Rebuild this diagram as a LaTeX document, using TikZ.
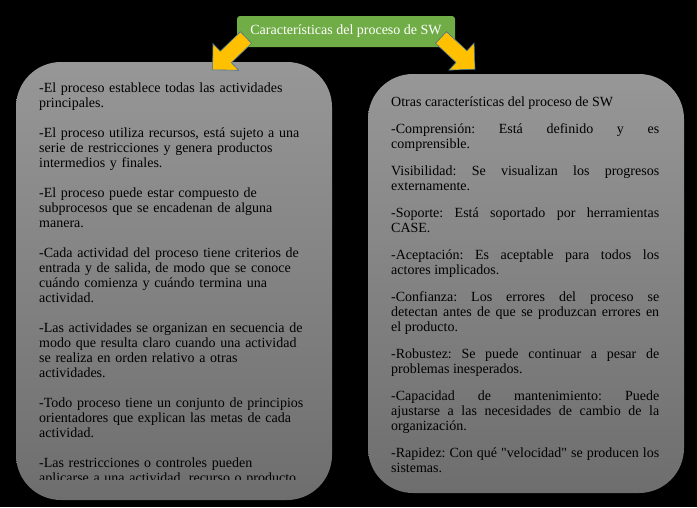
\documentclass[tikz,border=0pt]{standalone}
\usepackage{fontspec}
\setmainfont{Liberation Serif}
\usepackage{xcolor}
\usepackage{tikz}
\usetikzlibrary{positioning,calc}
\frenchspacing

\definecolor{titlegreen}{HTML}{70AD47}
\definecolor{arrowgold}{HTML}{FFC000}
\definecolor{arrowedge}{HTML}{41719C}
\definecolor{paneltop}{HTML}{979797}
\definecolor{panelbottom}{HTML}{6E6E6E}

\begin{document}
\begin{tikzpicture}[
  x=1pt, y=1pt,
  font=\fontsize{14}{15}\selectfont,
  panel/.style={rectangle, rounded corners=45pt, top color=paneltop, bottom color=panelbottom, inner sep=0pt, minimum width=316pt},
  body/.style={anchor=base west, inner sep=0pt, text=black},
  heading/.style={rectangle, rounded corners=3pt, fill=titlegreen, text=white, minimum width=218pt, minimum height=31pt, inner sep=0pt},
  blockarrow/.style={fill=arrowgold, draw=arrowedge, line width=0.6pt, line join=miter},
]
% black page (fixes the bounding box)
\fill[black] (0,0) rectangle (697,-507);

% the two grey panels
\node[panel, minimum height=438pt] (leftpanel) at (174,-281) {};
\node[panel, minimum height=419pt] (rightpanel) at (526,-283.5) {};

% heading
\node[heading] (title) at (346,-31.5) {Características del proceso de SW};

% yellow arrows: tail x / tail y / angle
\foreach \tx/\ty/\ang in {246/-37.5/224, 441/-37.5/-43} {
  \draw[blockarrow, shift={(\tx,\ty)}, rotate=\ang]
    (0,-8) -- (28,-8) -- (28,-18.5) -- (46.5,0) -- (28,18.5) -- (28,8) -- (0,8) -- cycle;
}

% left panel text (last line is cut by the text frame)
\begin{scope}
\clip (16,-62) rectangle (332,-479.5);
\node[body, text width=290pt, align=left] (lefttext) at (39,-92) {%
-El proceso establece todas las actividades\\
principales.\\[15pt]
-El proceso utiliza recursos, está sujeto a una\\
serie de restricciones y genera productos\\
intermedios y finales.\\[15pt]
-El proceso puede estar compuesto de\\
subprocesos que se encadenan de alguna\\
manera.\\[15pt]
-Cada actividad del proceso tiene criterios de\\
entrada y de salida, de modo que se conoce\\
cuándo comienza y cuándo termina una\\
actividad.\\[15pt]
-Las actividades se organizan en secuencia de\\
modo que resulta claro cuando una actividad\\
se realiza en orden relativo a otras\\
actividades.\\[15pt]
-Todo proceso tiene un conjunto de principios\\
orientadores que explican las metas de cada\\
actividad.\\[15pt]
-Las restricciones o controles pueden\\
aplicarse a una actividad, recurso o producto.};
\end{scope}

% right panel text
\node[body, text width=268pt, align=justify] (righttext) at (391,-106.7) {%
Otras características del proceso de SW\\[12pt]
-Comprensión: Está definido y es\linebreak
comprensible.\\[12pt]
Visibilidad: Se visualizan los progresos\linebreak
externamente.\\[12pt]
-Soporte: Está soportado por herramientas\linebreak
CASE.\\[12pt]
-Aceptación: Es aceptable para todos los\linebreak
actores implicados.\\[12pt]
-Confianza: Los errores del proceso se\linebreak
detectan antes de que se produzcan errores en\linebreak
el producto.\\[12pt]
-Robustez: Se puede continuar a pesar de\linebreak
problemas inesperados.\\[12pt]
-Capacidad de mantenimiento: Puede\linebreak
ajustarse a las necesidades de cambio de la\linebreak
organización.\\[12pt]
-Rapidez: Con qué \textquotedbl velocidad\textquotedbl{} se producen los\linebreak
sistemas.};
\end{tikzpicture}
\end{document}
